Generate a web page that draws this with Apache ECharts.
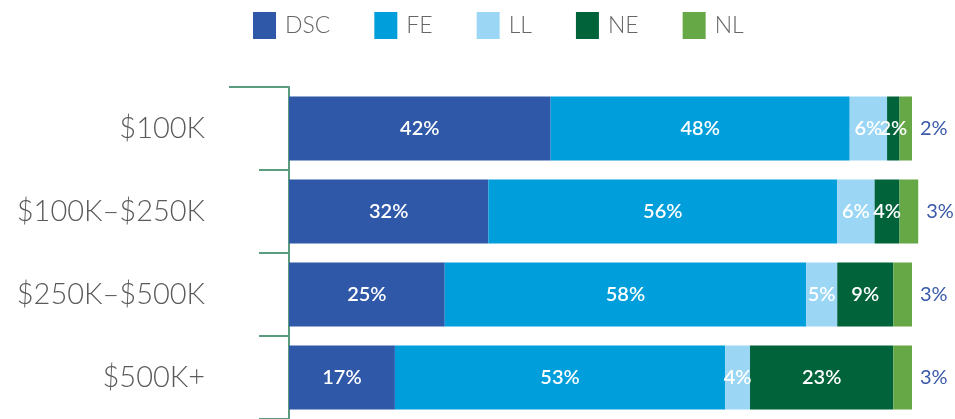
<!DOCTYPE html>
<html>
<head>
<meta charset="utf-8">
<script src="https://cdn.jsdelivr.net/npm/echarts@6/dist/echarts.min.js"></script>
<style>
  html, body { margin: 0; padding: 0; background: #fff; }
  #main { width: 955px; height: 419px; }
</style>
</head>
<body>
<div id="main"></div>
<script>
// income brackets, top to bottom
var categories = ['$100K', '$100K\u2013$250K', '$250K\u2013$500K', '$500K+'];
var seriesNames = ['DSC', 'FE', 'LL', 'NE', 'NL'];
var dsc = [42, 32, 25, 17];
var fe = [48, 56, 58, 53];
var ll = [6, 6, 5, 4];
var ne = [2, 4, 9, 23];
var nl = [2, 3, 3, 3];

var colors = ['#2f58a8', '#009edb', '#9bd7f5', '#00633a', '#66a845'];
var font = 'Lato';

var myChart = echarts.init(document.getElementById('main'));

function mk(name, data, idx) {
    var s = {
        name: name,
        type: 'bar',
        stack: 'all',
        barWidth: 64,
        clip: false,
        data: data,
        itemStyle: { color: colors[idx] },
        label: {
            show: true,
            position: 'inside',
            formatter: '{c}%',
            color: '#ffffff',
            fontFamily: font,
            fontWeight: 600,
            fontSize: 20
        }
    };
    if (name == 'NL') {
        // last segment gets its label outside the bar
        s.label.position = 'right';
        s.label.distance = 8;
        s.label.color = '#3a5aa8';
        s.label.fontWeight = 400;
    }
    return s;
}

var option = {
    animation: false,
    color: colors,
    legend: {
        left: 248,
        top: 7,
        itemWidth: 23,
        itemHeight: 27,
        itemGap: 44,
        icon: 'rect',
        textStyle: {
            color: '#666',
            fontFamily: font,
            fontWeight: 300,
            fontSize: 23,
            padding: [0, 0, 0, 4]
        },
        data: seriesNames
    },
    grid: {
        left: 289,
        right: 43,
        top: 87,
        bottom: -4,
        containLabel: false
    },
    xAxis: {
        type: 'value',
        min: 0,
        max: 100,
        show: false
    },
    yAxis: {
        type: 'category',
        inverse: true,
        data: categories,
        axisLine: { show: true, lineStyle: { color: '#5b9c7f', width: 2 } },
        axisTick: { show: true, length: 30, lineStyle: { color: '#5b9c7f', width: 2 } },
        axisLabel: {
            margin: 84,
            color: '#5a5a5a',
            fontFamily: font,
            fontWeight: 300,
            fontSize: 29
        },
        splitLine: { show: false }
    },
    graphic: [{
        type: 'line',
        shape: { x1: 229, y1: 87, x2: 260, y2: 87 },
        style: { stroke: '#5b9c7f', lineWidth: 2 }
    }],
    series: [
        mk('DSC', dsc, 0),
        mk('FE', fe, 1),
        mk('LL', ll, 2),
        mk('NE', ne, 3),
        mk('NL', nl, 4)
    ]
};

myChart.setOption(option);
</script>
</body>
</html>
